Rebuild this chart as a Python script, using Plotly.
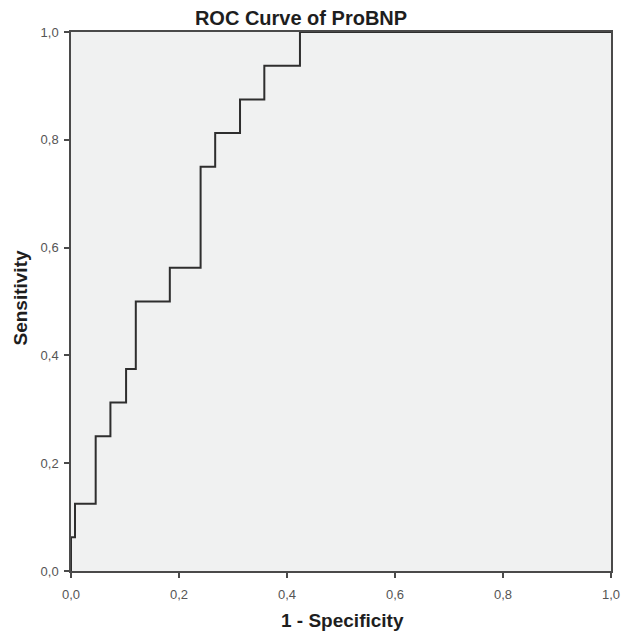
import plotly.graph_objects as go

# ROC step points (1 - specificity, sensitivity)
fpr = [0.0, 0.0, 0.0074, 0.0074, 0.0457, 0.0457, 0.073, 0.073, 0.102, 0.102,
       0.120, 0.120, 0.183, 0.183, 0.240, 0.240, 0.267, 0.267, 0.313, 0.313,
       0.358, 0.358, 0.424, 0.424, 1.0]
tpr = [0.0, 0.0625, 0.0625, 0.125, 0.125, 0.25, 0.25, 0.3125, 0.3125, 0.375,
       0.375, 0.5, 0.5, 0.5625, 0.5625, 0.75, 0.75, 0.8125, 0.8125, 0.875,
       0.875, 0.9375, 0.9375, 1.0, 1.0]

tick_vals = [0.0, 0.2, 0.4, 0.6, 0.8, 1.0]
tick_text = ["0,0", "0,2", "0,4", "0,6", "0,8", "1,0"]

FONT = "Liberation Sans, Arial, sans-serif"

fig = go.Figure()
fig.add_trace(go.Scatter(x=fpr, y=tpr, mode="lines",
                         line=dict(color="#2e2e2e", width=2),
                         hoverinfo="skip", showlegend=False, cliponaxis=False))

axis_common = dict(range=[0, 1], tickvals=tick_vals, ticktext=tick_text,
                   showgrid=False, zeroline=False, showline=True, automargin=False,
                   linecolor="#4a4a4a", linewidth=1.5, mirror=True,
                   ticks="outside", ticklen=5, tickwidth=1.5, tickcolor="#4a4a4a",
                   tickfont=dict(family=FONT, size=13, color="#555555"))

fig.update_layout(
    width=622, height=634,
    margin=dict(l=71, r=11, t=32, b=63),
    paper_bgcolor="white", plot_bgcolor="#f0f1f1",
    font=dict(family=FONT, color="#222222"),
    title=dict(text="<b>ROC Curve of ProBNP</b>", x=301/622, xanchor="center",
               xref="container", y=1-18/634, yref="container", yanchor="middle",
               font=dict(size=20, color="#1e1e1e")),
    xaxis=dict(**axis_common, ticklabelstandoff=6),
    yaxis=dict(**axis_common, ticklabelstandoff=3),
    annotations=[
        dict(text="<b>1 - Specificity</b>", xref="paper", yref="paper",
             x=(342-71)/540, y=(571-620)/539, xanchor="center", yanchor="middle",
             showarrow=False, font=dict(family=FONT, size=19, color="#1e1e1e")),
        dict(text="<b>Sensitivity</b>", xref="paper", yref="paper", textangle=-90,
             x=(19.5-71)/540, y=(571-298)/539, xanchor="center", yanchor="middle",
             showarrow=False, font=dict(family=FONT, size=19, color="#1e1e1e")),
    ],
)

fig.write_html("out.html")
